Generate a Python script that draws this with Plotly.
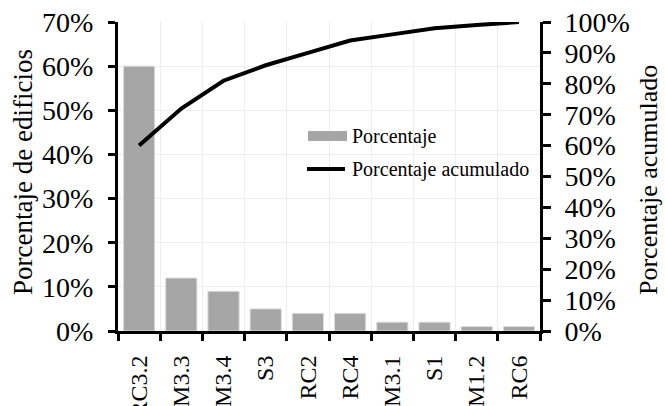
import numpy as np
import plotly.graph_objects as go

# Building typologies and their share of the building stock (%)
categorias = ["RC3.2", "M3.3", "M3.4", "S3", "RC2", "RC4", "M3.1", "S1", "M1.2", "RC6"]
porcentaje = [60, 12, 9, 5, 4, 4, 2, 2, 1, 1]

# Cumulative share for the Pareto line (fraction of total)
acumulado = list(np.cumsum(porcentaje) / np.sum(porcentaje))

y_ticks_izq = [0, 10, 20, 30, 40, 50, 60, 70]
y_ticks_der = [i / 10 for i in range(11)]

FONT = "Liberation Serif, Times New Roman, serif"
GRID = "#ededed"
BAR = "#a6a6a6"

L, R, T, B = 118, 125, 22, 75
W, H = 665, 406
PW, PH = W - L - R, H - T - B


def px(x):
    return (x - L) / PW


def py(y):
    return (H - B - y) / PH


fig = go.Figure()

fig.add_trace(go.Bar(
    x=categorias, y=porcentaje, name="Porcentaje",
    marker=dict(color=BAR, line=dict(color="#dcdcdc", width=1)),
    yaxis="y", showlegend=False,
))

fig.add_trace(go.Scatter(
    x=categorias, y=acumulado, name="Porcentaje acumulado",
    mode="lines", line=dict(color="black", width=4),
    yaxis="y2", showlegend=False,
))

fig.update_layout(
    width=W, height=H,
    margin=dict(l=L, r=R, t=T, b=B, pad=0, autoexpand=False),
    paper_bgcolor="white", plot_bgcolor="white",
    bargap=0.26,
    font=dict(family=FONT, color="black"),
    xaxis=dict(
        type="category", tickson="boundaries", automargin=False,
        showgrid=True, gridcolor=GRID, gridwidth=1,
        showline=True, linecolor="black", linewidth=3,
        ticks="outside", ticklen=7, tickwidth=3, tickcolor="black",
        tickangle=-90, tickfont=dict(size=24, family=FONT),
        ticklabelstandoff=12,
    ),
    yaxis=dict(
        range=[0, 70], tickvals=y_ticks_izq, automargin=False,
        ticktext=[f"{v}%" for v in y_ticks_izq],
        showgrid=True, gridcolor=GRID, gridwidth=1,
        showline=True, linecolor="black", linewidth=3,
        ticks="outside", ticklen=7, tickwidth=3, tickcolor="black",
        tickfont=dict(size=28, family=FONT),
        ticklabelstandoff=9, zeroline=False,
    ),
    yaxis2=dict(
        range=[0, 1], tickvals=y_ticks_der, automargin=False,
        ticktext=[f"{round(v * 100)}%" for v in y_ticks_der],
        overlaying="y", side="right", showgrid=False,
        showline=True, linecolor="black", linewidth=3,
        ticks="outside", ticklen=8, tickwidth=3, tickcolor="black",
        tickfont=dict(size=28, family=FONT),
        ticklabelstandoff=8, zeroline=False,
    ),
)

# Axis titles
fig.add_annotation(
    text="Porcentaje de edificios", xref="paper", yref="paper",
    x=px(23), y=py(172), xanchor="center", yanchor="middle",
    textangle=-90, showarrow=False, font=dict(size=27, family=FONT),
)
fig.add_annotation(
    text="Porcentaje acumulado", xref="paper", yref="paper",
    x=px(649), y=py(180), xanchor="center", yanchor="middle",
    textangle=-90, showarrow=False, font=dict(size=26, family=FONT),
)

# Legend keys drawn inside the plot area
fig.add_shape(type="rect", xref="paper", yref="paper",
              x0=px(308), x1=px(347), y0=py(141), y1=py(131),
              fillcolor=BAR, line=dict(width=0))
fig.add_shape(type="line", xref="paper", yref="paper",
              x0=px(307), x1=px(345), y0=py(169), y1=py(169),
              line=dict(color="black", width=4))
fig.add_annotation(text="Porcentaje", xref="paper", yref="paper",
                   x=px(350), y=py(136), xanchor="left", yanchor="middle",
                   showarrow=False, font=dict(size=20, family=FONT))
fig.add_annotation(text="Porcentaje acumulado", xref="paper", yref="paper",
                   x=px(350), y=py(169), xanchor="left", yanchor="middle",
                   showarrow=False, font=dict(size=20, family=FONT))

fig.write_html("out.html")
